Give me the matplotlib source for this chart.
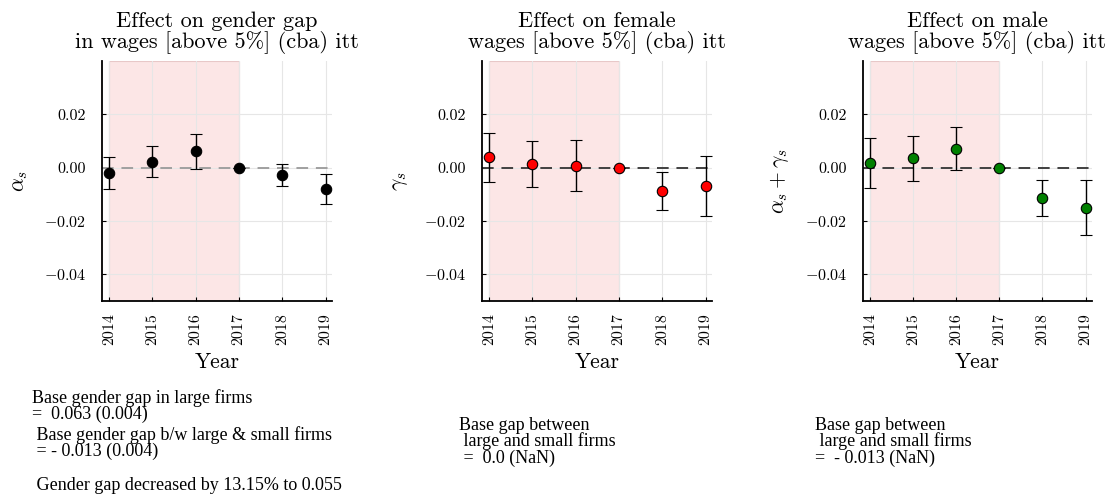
import matplotlib
matplotlib.use("Agg")
import matplotlib.pyplot as plt
import numpy as np

plt.rcParams['font.family'] = 'serif'
plt.rcParams['font.serif'] = ['cmr10']
plt.rcParams['mathtext.fontset'] = 'cm'
plt.rcParams['axes.formatter.use_mathtext'] = True

years = [2014, 2015, 2016, 2017, 2018, 2019]

# point estimates and confidence bounds
gap_est = [-0.0021, 0.00225, 0.00625, 0.0, -0.00275, -0.0081]
gap_lo = [-0.0080, -0.0035, -0.0005, 0.0, -0.0070, -0.0135]
gap_hi = [0.0039, 0.0080, 0.0128, 0.0, 0.0015, -0.0025]

fem_est = [0.0039, 0.0014, 0.00075, 0.0, -0.0087, -0.0069]
fem_lo = [-0.00525, -0.0074, -0.0089, 0.0, -0.0160, -0.0181]
fem_hi = [0.0129, 0.0100, 0.0105, 0.0, -0.0015, 0.0044]

male_est = [0.00175, 0.0035, 0.0070, 0.0, -0.0115, -0.0150]
male_lo = [-0.0076, -0.0049, -0.0010, 0.0, -0.0182, -0.0254]
male_hi = [0.0110, 0.0120, 0.0152, 0.0, -0.0046, -0.0047]

titles = ["Effect on gender gap\nin wages [above 5%] (cba) itt",
          "Effect on female\nwages [above 5%] (cba) itt",
          "Effect on male\nwages [above 5%] (cba) itt"]
ylabels = [r"$\alpha_s$", r"$\gamma_s$", r"$\alpha_s + \gamma_s$"]
colors = ["black", "red", "green"]
zero_colors = ["#a0a0a0", "#404040", "#404040"]
notes = [["Base gender gap in large firms", "=  0.063 (0.004)",
          " Base gender gap b/w large & small firms", " = - 0.013 (0.004)",
          "", " Gender gap decreased by 13.15% to 0.055"],
         ["Base gap between", " large and small firms", " =  0.0 (NaN)"],
         ["Base gap between", " large and small firms", "=  - 0.013 (NaN)"]]
yticks = [-0.04, -0.02, 0.0, 0.02]

W, H = 1116, 498
fig = plt.figure(figsize=(W / 100, H / 100), dpi=100)

# axes boxes in pixels: left, top, right, bottom
boxes = [(102, 61, 332, 301), (482, 61, 712, 301), (863, 61, 1092, 301)]
# y centres (pixels) of each note line
note_x = [32, 459, 815]
note_y = [[398, 414, 435, 451, 468, 485], [425, 441, 458], [425, 441, 458]]

series = [(gap_est, gap_lo, gap_hi), (fem_est, fem_lo, fem_hi), (male_est, male_lo, male_hi)]

for i in range(3):
    l, t, r, b = boxes[i]
    ax = fig.add_axes([l / W, 1 - b / H, (r - l) / W, (b - t) / H])
    est, lo, hi = [np.array(s) for s in series[i]]
    yerr = np.vstack([est - lo, hi - est])

    ax.axvspan(2014, 2017, facecolor="#fce6e6", edgecolor="#e8c8c8", lw=0.8, zorder=0)
    ax.axhline(0, color=zero_colors[i], ls=(0, (6, 4)), lw=1.4, zorder=1)
    ax.errorbar(years, est, yerr=yerr, fmt="o", color=colors[i], ecolor="black",
                mec="black", mew=0.8, ms=7.5, elinewidth=1.0, capsize=4, capthick=1.0, zorder=3)

    ax.set_xlim(2013.84, 2019.15)
    ax.set_ylim(-0.05, 0.04)
    ax.set_xticks(years)
    ax.set_xticklabels([str(y) for y in years], rotation=90)
    ax.set_yticks(yticks)
    ax.yaxis.set_major_formatter(matplotlib.ticker.FuncFormatter(
        lambda v, p: ("$-$" if v < -1e-9 else "") + "%.2f" % abs(v)))
    ax.grid(True, color="#e6e6e6", lw=0.8, zorder=0)
    ax.set_axisbelow(True)
    ax.spines['top'].set_visible(False)
    ax.spines['right'].set_visible(False)
    ax.spines['left'].set_linewidth(1.3)
    ax.spines['bottom'].set_linewidth(1.3)
    ax.tick_params(direction="in", length=3, labelsize=11.5)
    ax.tick_params(axis="y", pad=11.5)
    ax.tick_params(axis="x", pad=9)
    ax.set_title(titles[i], fontsize=16, pad=9, linespacing=1.05)
    ax.set_xlabel("Year", fontsize=15.5, labelpad=5)
    ax.set_ylabel(ylabels[i], fontsize=15.5, labelpad=10)

    for line, y in zip(notes[i], note_y[i]):
        if line:
            fig.text(note_x[i] / W, 1 - y / H, line, family="Liberation Serif", fontsize=13,
                     va="center", ha="left")

fig.savefig("out.png", dpi=100)
